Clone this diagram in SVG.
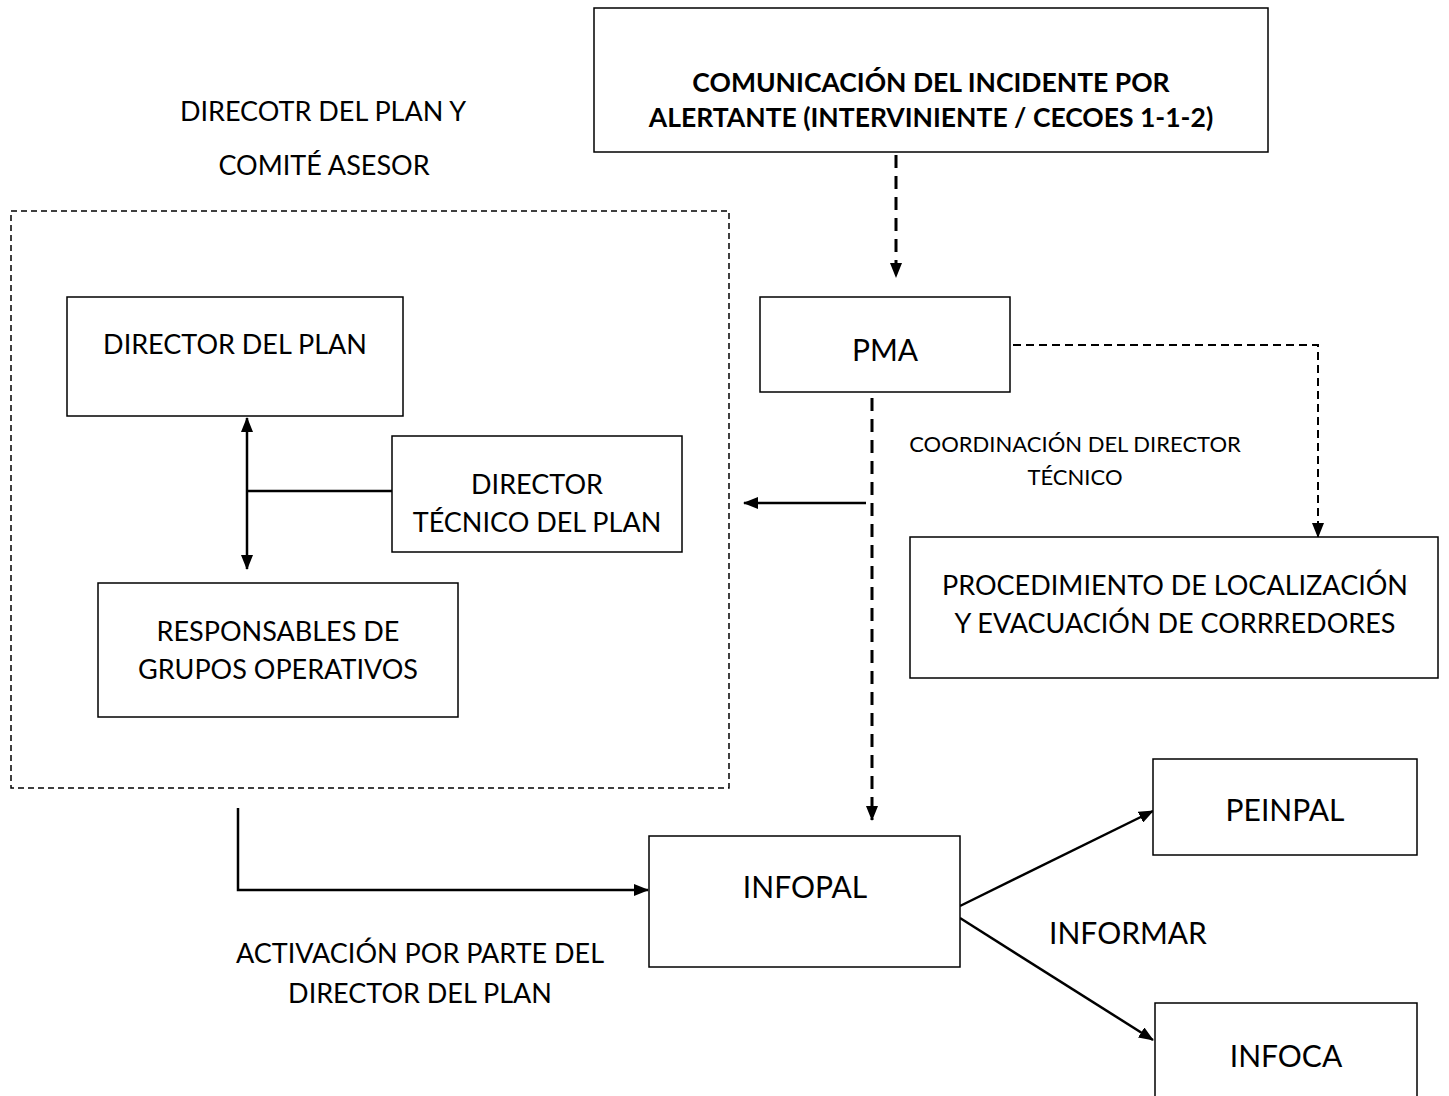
<svg xmlns="http://www.w3.org/2000/svg" width="1449" height="1096" viewBox="0 0 1449 1096">
<style>
.box{fill:#fff;stroke:#000;stroke-width:1.5}
.t{font-family:Lato,"Open Sans","Liberation Sans",sans-serif;font-size:27px;fill:#000;text-anchor:middle}
.b{font-weight:bold;font-size:26.5px}
.s{font-size:22px}
.big{font-size:30px}
.solid{fill:none;stroke:#000;stroke-width:2.5}
.dash{fill:none;stroke:#000;stroke-width:3;stroke-dasharray:13 8}
.thin{fill:none;stroke:#000;stroke-width:1.5;stroke-dasharray:6 4}
.mid{fill:none;stroke:#000;stroke-width:2;stroke-dasharray:8 5}
</style>
<defs>
<marker id="ah" markerWidth="15" markerHeight="12" refX="14" refY="6" orient="auto" markerUnits="userSpaceOnUse">
<path d="M0,0 L15,6 L0,12 Z" fill="#000"/>
</marker>
<marker id="ahs" markerWidth="15" markerHeight="12" refX="14" refY="6" orient="auto-start-reverse" markerUnits="userSpaceOnUse">
<path d="M0,0 L15,6 L0,12 Z" fill="#000"/>
</marker>
</defs>
<rect width="1449" height="1096" fill="#fff"/>

<g id="labels">
<text class="t" x="323" y="121">DIRECOTR DEL PLAN Y</text>
<text class="t" x="324" y="175">COMITÉ ASESOR</text>
<text class="t s" x="1075" y="452">COORDINACIÓN DEL DIRECTOR</text>
<text class="t s" x="1075" y="485">TÉCNICO</text>
<text class="t big" x="1128" y="944">INFORMAR</text>
<text class="t" x="420" y="963">ACTIVACIÓN POR PARTE DEL</text>
<text class="t" x="420" y="1003">DIRECTOR DEL PLAN</text>
</g>

<g id="group-comite">
<rect x="11" y="211" width="718" height="577" class="thin"/>
</g>

<g id="connectors">
<line x1="896" y1="155" x2="896" y2="277" class="dash" marker-end="url(#ah)"/>
<polyline points="1013,345 1318,345 1318,537" class="mid" marker-end="url(#ah)"/>
<line x1="872" y1="398" x2="872" y2="820" class="dash" marker-end="url(#ah)"/>
<line x1="866" y1="503" x2="744" y2="503" class="solid" marker-end="url(#ah)"/>
<line x1="247" y1="418" x2="247" y2="569" class="solid" marker-start="url(#ahs)" marker-end="url(#ah)"/>
<line x1="247" y1="491" x2="392" y2="491" class="solid"/>
<polyline points="238,808 238,890 648,890" class="solid" marker-end="url(#ah)"/>
<line x1="960" y1="906" x2="1153" y2="811" class="solid" marker-end="url(#ah)"/>
<line x1="960" y1="918" x2="1153" y2="1040" class="solid" marker-end="url(#ah)"/>
</g>

<g id="node-comunicacion">
<rect x="594" y="8" width="674" height="144" class="box"/>
<text class="t b" x="931" y="92">COMUNICACIÓN DEL INCIDENTE POR</text>
<text class="t b" x="931" y="127">ALERTANTE (INTERVINIENTE / CECOES 1-1-2)</text>
</g>

<g id="node-director-plan">
<rect x="67" y="297" width="336" height="119" class="box"/>
<text class="t" x="235" y="354">DIRECTOR DEL PLAN</text>
</g>

<g id="node-director-tecnico">
<rect x="392" y="436" width="290" height="116" class="box"/>
<text class="t" x="537" y="494">DIRECTOR</text>
<text class="t" x="537" y="532">TÉCNICO DEL PLAN</text>
</g>

<g id="node-responsables">
<rect x="98" y="583" width="360" height="134" class="box"/>
<text class="t" x="278" y="641">RESPONSABLES DE</text>
<text class="t" x="278" y="679">GRUPOS OPERATIVOS</text>
</g>

<g id="node-pma">
<rect x="760" y="297" width="250" height="95" class="box"/>
<text class="t big" x="885" y="361">PMA</text>
</g>

<g id="node-procedimiento">
<rect x="910" y="537" width="528" height="141" class="box"/>
<text class="t" x="1175" y="595">PROCEDIMIENTO DE LOCALIZACIÓN</text>
<text class="t" x="1175" y="633">Y EVACUACIÓN DE CORRREDORES</text>
</g>

<g id="node-infopal">
<rect x="649" y="836" width="311" height="131" class="box"/>
<text class="t big" x="805" y="898">INFOPAL</text>
</g>

<g id="node-peinpal">
<rect x="1153" y="759" width="264" height="96" class="box"/>
<text class="t big" x="1285" y="821">PEINPAL</text>
</g>

<g id="node-infoca">
<rect x="1155" y="1003" width="262" height="100" class="box"/>
<text class="t big" x="1286" y="1067">INFOCA</text>
</g>
</svg>
